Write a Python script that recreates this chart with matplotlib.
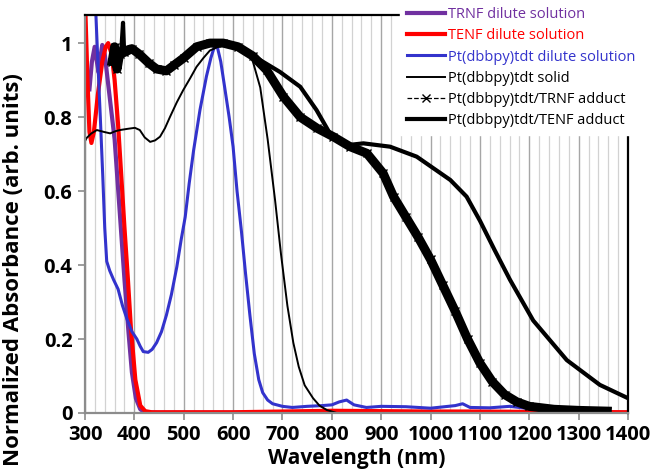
import matplotlib
matplotlib.use("Agg")
import matplotlib.pyplot as plt
from matplotlib.ticker import MultipleLocator, FixedLocator, FixedFormatter

plt.rcParams['font.family'] = ['Open Sans', 'DejaVu Sans']

# TRNF dilute solution
trnf_x = [309, 314, 319.6, 324, 327.7, 331, 335, 340, 346, 353, 360, 370, 380, 388, 395, 403, 412, 422,
          450, 600, 800, 1000, 1200, 1400]
trnf_y = [0.875, 0.95, 0.99, 0.95, 0.92, 0.96, 0.995, 0.97, 0.9, 0.82, 0.74, 0.55, 0.36, 0.22, 0.11, 0.04, 0.01, 0.002,
          0.001, 0.001, 0.002, 0.002, 0.001, 0.001]

# TENF dilute solution
tenf_x = [300, 305, 309, 313, 318, 326, 335, 342, 347, 354, 360, 367, 374, 380, 387, 393, 402, 412, 422, 435,
          500, 600, 700, 800, 900, 1000, 1100, 1200, 1300, 1400]
tenf_y = [1.12, 0.9, 0.76, 0.73, 0.76, 0.86, 0.95, 0.99, 1.0, 0.97, 0.9, 0.78, 0.63, 0.5, 0.36, 0.23, 0.09, 0.02, 0.005, 0.002,
          0.002, 0.002, 0.004, 0.006, 0.005, 0.004, 0.004, 0.003, 0.003, 0.002]

# Pt(dbbpy)tdt dilute solution
pt_sol_x = [318, 322, 327, 331, 336, 340, 344, 350, 358, 367, 376, 385, 395, 405, 412, 418, 428, 436, 445, 455,
            465, 475, 486, 495, 503, 511, 520, 533, 546, 555, 562, 568, 575, 583, 592, 600, 608, 617, 625, 634,
            643, 652, 660, 670, 680, 700, 720, 750, 780, 800, 815, 830, 845, 870, 900, 950, 1000, 1050, 1065,
            1080, 1120, 1160, 1200]
pt_sol_y = [1.25, 1.08, 0.92, 0.8, 0.64, 0.5, 0.41, 0.385, 0.36, 0.335, 0.29, 0.254, 0.22, 0.2, 0.18, 0.166, 0.164, 0.172, 0.19, 0.22,
            0.265, 0.32, 0.395, 0.47, 0.53, 0.62, 0.71, 0.82, 0.91, 0.96, 0.99, 0.99, 0.95, 0.88, 0.8, 0.72, 0.6, 0.49, 0.38, 0.265,
            0.16, 0.09, 0.055, 0.035, 0.025, 0.018, 0.015, 0.018, 0.02, 0.022, 0.03, 0.035, 0.022, 0.015, 0.018, 0.017, 0.013, 0.02, 0.025,
            0.015, 0.014, 0.018, 0.012]

# Pt(dbbpy)tdt solid
pt_solid_x = [300, 303, 312, 324, 338, 351, 362, 371, 385, 401, 411, 421, 432, 442, 452, 462, 472, 486, 499, 513,
              526, 540, 553, 570, 590, 610, 625, 638, 655, 670, 685, 697, 710, 722, 733, 745, 762, 775, 790, 810]
pt_solid_y = [0.735, 0.743, 0.755, 0.765, 0.76, 0.756, 0.762, 0.765, 0.768, 0.771, 0.765, 0.745, 0.733, 0.737, 0.747, 0.77, 0.80, 0.84, 0.873, 0.905,
              0.936, 0.96, 0.98, 0.99, 1.0, 0.99, 0.975, 0.96, 0.88, 0.74, 0.576, 0.43, 0.29, 0.19, 0.125, 0.075, 0.04, 0.02, 0.008, 0.0]

# Pt(dbbpy)tdt/TRNF adduct
trnf_add_x = [355, 360, 365, 370, 380, 395, 410, 430, 445, 465, 480, 500, 526, 553, 580, 610, 640, 668,
              702, 736, 770, 803, 837, 871, 904, 925, 950, 975, 1000, 1025, 1050, 1075, 1100, 1125, 1150,
              1175, 1200, 1250, 1300, 1358]
trnf_add_y = [0.95, 0.99, 0.93, 0.97, 0.975, 0.985, 0.97, 0.945, 0.93, 0.925, 0.94, 0.96, 0.99, 1.0, 1.0, 0.99, 0.965, 0.927,
              0.855, 0.80, 0.77, 0.747, 0.72, 0.702, 0.648, 0.585, 0.53, 0.475, 0.415, 0.345, 0.275, 0.2, 0.135, 0.085, 0.05,
              0.03, 0.018, 0.01, 0.007, 0.005]

# Pt(dbbpy)tdt/TENF adduct
tenf_add_x = [368, 374, 377, 379, 390, 410, 430, 445, 465, 478, 498, 526, 553, 580, 600, 630, 660, 695,
              736, 769, 796, 830, 864, 918, 972, 1040, 1073, 1100, 1130, 1161, 1208, 1276, 1343, 1400]
tenf_add_y = [0.97, 0.99, 1.055, 0.985, 0.99, 0.97, 0.95, 0.935, 0.93, 0.945, 0.963, 0.99, 1.0, 1.0, 0.995, 0.975, 0.95, 0.922,
              0.882, 0.819, 0.756, 0.724, 0.729, 0.72, 0.693, 0.63, 0.585, 0.52, 0.44, 0.36, 0.25, 0.143, 0.076, 0.04]

labels = ['TRNF dilute solution', 'TENF dilute solution', 'Pt(dbbpy)tdt dilute solution',
          'Pt(dbbpy)tdt solid', 'Pt(dbbpy)tdt/TRNF adduct', 'Pt(dbbpy)tdt/TENF adduct']
purple = '#7030a0'
red = '#ff0000'
blue = '#3333cc'

fig = plt.figure(figsize=(6.54, 4.75), dpi=100)
ax = fig.add_axes([85 / 654, 62 / 475, 543 / 654, 398 / 475])

ax.plot(trnf_x, trnf_y, color=purple, lw=3, label=labels[0])
ax.plot(tenf_x, tenf_y, color=red, lw=3, label=labels[1])
ax.plot(pt_sol_x, pt_sol_y, color=blue, lw=2.2, label=labels[2])
ax.plot(pt_solid_x, pt_solid_y, color='black', lw=1.4, label=labels[3])
# dense x markers in the original make this one look like a thick band
ax.plot(trnf_add_x, trnf_add_y, color='black', lw=6.5)
ax.plot(trnf_add_x, trnf_add_y, color='black', lw=0.9, ls='--', marker='x', ms=6, mew=1, label=labels[4])
ax.plot(tenf_add_x, tenf_add_y, color='black', lw=3, label=labels[5])

ax.set_xlim(300, 1400)
ax.set_ylim(0, 1.076)
ax.xaxis.set_major_locator(MultipleLocator(100))
ax.xaxis.set_minor_locator(MultipleLocator(20))
ax.yaxis.set_major_locator(FixedLocator([0, 0.2, 0.4, 0.6, 0.8, 1.0]))
ax.yaxis.set_major_formatter(FixedFormatter(['0', '0.2', '0.4', '0.6', '0.8', '1']))

ax.set_axisbelow(True)
ax.grid(which='minor', axis='x', color='#d2d2d2', lw=0.9)
ax.grid(which='major', axis='x', color='#a6a6a6', lw=1.0)
ax.grid(which='major', axis='y', visible=False)

ax.tick_params(which='minor', length=0)
ax.tick_params(which='major', direction='out', length=5, width=1.2, color='#8c8c8c',
               labelsize=14.5, pad=4)
for lab in ax.get_xticklabels() + ax.get_yticklabels():
    lab.set_fontweight('bold')

for side in ['left', 'bottom']:
    ax.spines[side].set_color('#8c8c8c')
    ax.spines[side].set_linewidth(1.6)
for side in ['top', 'right']:
    ax.spines[side].set_color('black')
    ax.spines[side].set_linewidth(1.6)

ax.set_xlabel('Wavelength (nm)', fontsize=15, fontweight='bold', labelpad=2)
ax.set_ylabel('Normalized Absorbance (arb. units)', fontsize=16, fontweight='bold')
ax.yaxis.set_label_coords(-0.112, 0.36)

leg = fig.legend(loc='upper left', bbox_to_anchor=(400 / 654, 1.0),
                 bbox_transform=fig.transFigure, prop={'size': 10.5},
                 frameon=True, facecolor='white', edgecolor='white', framealpha=1, fancybox=False,
                 handlelength=2.6, handletextpad=0.2, labelspacing=0.42, borderpad=0.5,
                 borderaxespad=0)
for text, col in zip(leg.get_texts(), [purple, red, blue, 'black', 'black', 'black']):
    text.set_color(col)

fig.savefig('out.png', dpi=100)
